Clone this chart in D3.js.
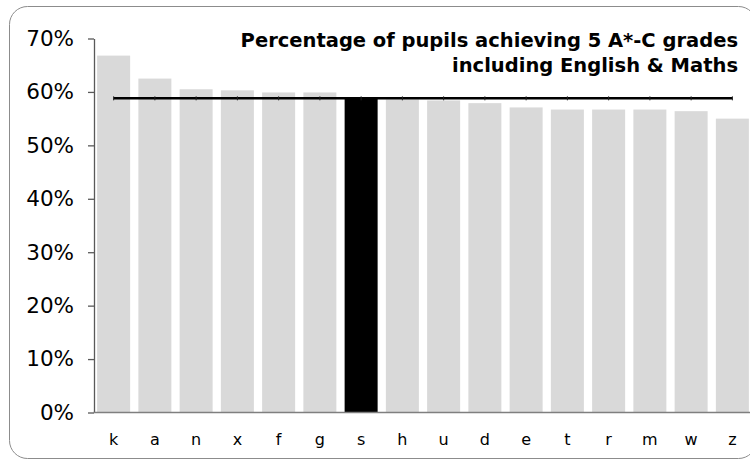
<!DOCTYPE html>
<html>
<head>
<meta charset="utf-8">
<script src="https://cdn.jsdelivr.net/npm/d3@7"></script>
<style>
    body { margin: 0; background: #fff; }
    svg { display: block; }
</style>
</head>
<body>
<svg width="750" height="460"></svg>
<script>
"use strict";

// Local authorities, sorted by result
var categories = ["k", "a", "n", "x", "f", "g", "s", "h", "u", "d", "e", "t", "r", "m", "w", "z"];

// Percentage of pupils achieving 5 A*-C grades incl. English & Maths
var values = [66.8, 62.5, 60.5, 60.3, 59.9, 59.9, 58.8, 58.6, 58.4, 57.9, 57.1, 56.7, 56.7, 56.7, 56.4, 55.0];

// Comparison line (same value for every authority)
var average = [58.8, 58.8, 58.8, 58.8, 58.8, 58.8, 58.8, 58.8, 58.8, 58.8, 58.8, 58.8, 58.8, 58.8, 58.8, 58.8];

// The highlighted authority
var highlight = "s";

var yTicks = [0, 10, 20, 30, 40, 50, 60, 70];

var titleLines = ["Percentage of pupils achieving 5 A*-C grades", "including English & Maths"];

var plotChart = function() {

    var svg = d3.select("svg");

    // Rounded frame round the chart
    svg.append("rect")
        .attr("x", 9.5)
        .attr("y", 6.5)
        .attr("width", 747)
        .attr("height", 452)
        .attr("rx", 18)
        .attr("fill", "none")
        .attr("stroke", "#8c8c8c")
        .attr("stroke-width", 1);

    // Scales
    var xScale = d3.scaleBand()
        .domain(categories)
        .range([93, 753])
        .paddingInner(0.2)
        .paddingOuter(0.1);

    var yScale = d3.scaleLinear()
        .domain([0, 70])
        .range([412.5, 38.5]);

    var chart = svg.append("g")
        .attr("class", "chart");

    // Bars
    chart.append("g")
        .attr("class", "bars")
        .selectAll("rect")
        .data(values)
        .enter().append("rect")
        .attr("x", function(d, i) { return xScale(categories[i]); })
        .attr("y", function(d) { return yScale(d); })
        .attr("width", xScale.bandwidth())
        .attr("height", function(d) { return yScale(0) - yScale(d); })
        .attr("fill", function(d, i) { return categories[i] === highlight ? "#000" : "#d9d9d9"; });

    // Y axis
    var yAxis = d3.axisLeft(yScale)
        .tickValues(yTicks)
        .tickSize(6)
        .tickSizeOuter(0)
        .tickPadding(14)
        .tickFormat(function(d) { return d + "%"; });

    var yG = chart.append("g")
        .attr("class", "y-axis")
        .attr("transform", "translate(94, 0)")
        .call(yAxis);

    yG.selectAll("path, line")
        .attr("stroke", "#595959")
        .attr("stroke-width", 1.3);

    yG.selectAll("text")
        .attr("fill", "#000")
        .style("font-family", "'DejaVu Sans', Verdana, sans-serif")
        .style("font-size", "21.5px");

    // X axis
    var xAxis = d3.axisBottom(xScale)
        .tickSize(0)
        .tickPadding(21);

    var xG = chart.append("g")
        .attr("class", "x-axis")
        .attr("transform", "translate(0, " + yScale(0) + ")")
        .call(xAxis);

    xG.select("path")
        .attr("d", "M93.5,0H760")
        .attr("stroke", "#7f7f7f")
        .attr("stroke-width", 1.5);

    xG.selectAll("text")
        .attr("fill", "#000")
        .style("font-family", "'DejaVu Sans', Verdana, sans-serif")
        .style("font-size", "16px");

    // Comparison line through the category centres
    var line = d3.line()
        .x(function(d, i) { return xScale(categories[i]) + xScale.bandwidth() / 2; })
        .y(function(d) { return yScale(d); });

    chart.append("path")
        .datum(average)
        .attr("d", line)
        .attr("fill", "none")
        .attr("stroke", "#000")
        .attr("stroke-width", 2.5);

    // Small dash markers on the line
    chart.append("g")
        .attr("class", "markers")
        .selectAll("line")
        .data(average)
        .enter().append("line")
        .attr("x1", function(d, i) { return xScale(categories[i]) + xScale.bandwidth() / 2; })
        .attr("x2", function(d, i) { return xScale(categories[i]) + xScale.bandwidth() / 2; })
        .attr("y1", function(d) { return yScale(d) - 2; })
        .attr("y2", function(d) { return yScale(d) + 2; })
        .attr("stroke", "#222")
        .attr("stroke-width", 1);

    // Title, right aligned
    svg.append("g")
        .attr("class", "title")
        .selectAll("text")
        .data(titleLines)
        .enter().append("text")
        .attr("x", 738)
        .attr("y", function(d, i) { return 47 + i * 25; })
        .attr("text-anchor", "end")
        .style("font-family", "'DejaVu Sans', Verdana, sans-serif")
        .style("font-weight", "bold")
        .style("font-size", "19.5px")
        .text(function(d) { return d; });
};

plotChart();
</script>
</body>
</html>
